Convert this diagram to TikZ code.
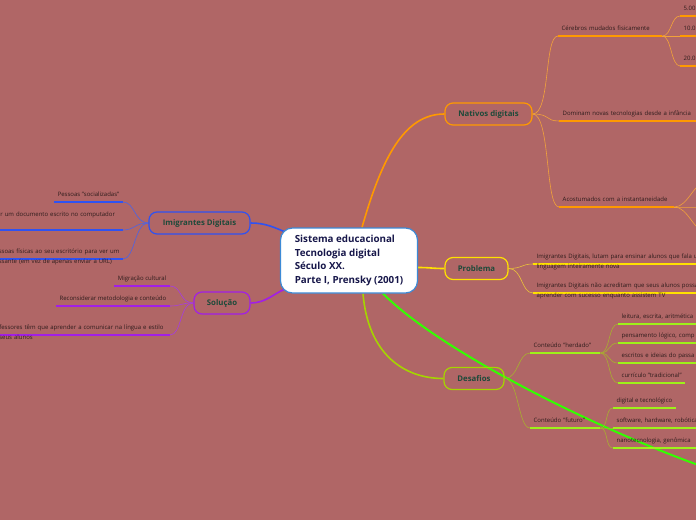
\documentclass[tikz,border=0pt]{standalone}
\usepackage{fontspec}
\setmainfont{Open Sans}
\usetikzlibrary{backgrounds}

\definecolor{bg}{HTML}{B06666}
\definecolor{rootblue}{HTML}{3C8AD6}
\definecolor{navy}{HTML}{17174A}
\definecolor{topictext}{HTML}{1E4A3A}
\definecolor{leaftext}{HTML}{2E1C1C}
\definecolor{natorange}{HTML}{FF9900}
\definecolor{natthin}{HTML}{F2A23A}
\definecolor{proyellow}{HTML}{FFE100}
\definecolor{prothin}{HTML}{EAC23A}
\definecolor{deslime}{HTML}{A5D400}
\definecolor{desline}{HTML}{9EF01A}
\definecolor{desthin}{HTML}{A8AE30}
\definecolor{brightgreen}{HTML}{33FF00}
\definecolor{imiblue}{HTML}{2F52F2}
\definecolor{imithin}{HTML}{4A63E6}
\definecolor{solpurple}{HTML}{A21FE6}
\definecolor{solthin}{HTML}{A63DE0}

\begin{document}
\begin{tikzpicture}[x=1pt, y=-1pt,
  root/.style={draw=rootblue, fill=white, line width=1.2pt, rounded corners=12pt,
    minimum width=137pt, minimum height=65pt, align=left, text=navy,
    font=\bfseries\fontsize{9.8}{13.7}\selectfont},
  topic/.style={draw=#1, line width=1.2pt, rounded corners=8pt, minimum height=22pt,
    text=topictext, font=\bfseries\fontsize{7.8}{9}\selectfont},
  leaf/.style={inner xsep=3.5pt, inner ysep=3.5pt, text depth=1.6pt, align=left,
    text=leaftext, font=\fontsize{6}{10}\selectfont},
  branch/.style={draw=#1, line width=1.6pt},
  twig/.style={draw=#1, line width=0.6pt},
  uline/.style={draw=#1, line width=1.6pt}]
  \useasboundingbox (0,0) rectangle (696,520);
  \clip (0,0) rectangle (696,520);

  % Centre
  \node[root] (root) at (349,260.5)
    {Sistema educacional\\Tecnologia digital\\Século XX.\\Parte I, Prensky (2001)};

  % Main topics
  \node[topic=natorange, minimum width=87pt] (nat) at (488.5,114) {Nativos digitais};
  \node[topic=proyellow, minimum width=63pt] (pro) at (476.5,268.5) {Problema};
  \node[topic=deslime, minimum width=60pt] (des) at (474,378.5) {Desafios};
  \node[topic=imiblue, minimum width=101pt] (imi) at (199.5,223) {Imigrantes Digitais};
  \node[topic=solpurple, minimum width=56pt] (sol) at (222,303) {Solução};
  \coordinate (far) at (704,467);

  % Nativos digitais
  \node[leaf, text width=97pt, anchor=south west] (cer) at (558,36) {Cérebros mudados fisicamente};
  \node[leaf, text width=150pt, anchor=south west] (dom) at (559,121) {Dominam novas tecnologias desde a infância};
  \node[leaf, text width=108pt, anchor=south west] (aco) at (559,207) {Acostumados com a instantaneidade};
  \node[leaf, text width=40pt, anchor=south west] (c5) at (680,16) {5.00};
  \node[leaf, text width=40pt, anchor=south west] (c10) at (680,36) {10.0};
  \node[leaf, text width=40pt, anchor=south west] (c20) at (680,66) {20.0};
  \coordinate (a1) at (708,181);
  \coordinate (a2) at (708,207);
  \coordinate (a3) at (708,233);

  % Problema
  \node[leaf, text width=200pt, anchor=south west] (p1) at (533,264)
    {Imigrantes Digitais, lutam para ensinar alunos que fala u\\linguagem inteiramente nova};
  \node[leaf, text width=200pt, anchor=south west] (p2) at (533,293)
    {Imigrantes Digitais não acreditam que seus alunos possa\\aprender com sucesso enquanto assistem TV};

  % Desafios
  \node[leaf, text width=63pt, anchor=south west] (herd) at (530,353) {Conteúdo "herdado"};
  \node[leaf, text width=63pt, anchor=south west] (fut) at (530,428) {Conteúdo "futuro"};
  \node[leaf, text width=100pt, anchor=south west] (h1) at (618,324) {leitura, escrita, aritmética};
  \node[leaf, text width=100pt, anchor=south west] (h2) at (618,343) {pensamento lógico, comp};
  \node[leaf, text width=100pt, anchor=south west] (h3) at (618,363) {escritos e ideias do passa};
  \node[leaf, anchor=south west] (h4) at (618,383) {currículo "tradicional"};
  \node[leaf, anchor=south west] (f1) at (613,408) {digital e tecnológico};
  \node[leaf, text width=100pt, anchor=south west] (f2) at (613,428) {software, hardware, robótica};
  \node[leaf, text width=100pt, anchor=south west] (f3) at (613,448) {nanotecnologia, genômica};

  % Imigrantes Digitais
  \node[leaf, anchor=south east] (i1) at (123,202) {Pessoas "socializadas"};
  \node[leaf, inner xsep=3pt, text width=121pt, text depth=10pt, anchor=south east] (i2) at (123,230)
    {ir um documento escrito no computador};
  \node[leaf, inner xsep=3pt, text width=121pt, anchor=south east] (i3) at (123,259)
    {ssoas físicas ao seu escritório para ver um\\ssante (em vez de apenas enviar a URL)};

  % Solução
  \node[leaf, anchor=south east] (s1) at (170,286) {Migração cultural};
  \node[leaf, anchor=south east] (s2) at (170,306) {Reconsiderar metodologia e conteúdo};
  \node[leaf, text width=167pt, anchor=south east] (s3) at (170,335)
    {fessores têm que aprender a comunicar na língua e estilo\\seus alunos};

  \begin{scope}[on background layer]
    \clip (0,0) rectangle (696,520);
    \fill[bg] (0,0) rectangle (696,520);

    % Branches from the centre
    \draw[branch=natorange] ([xshift=13pt]root.north) .. controls +(20,-70) and +(-40,0) .. (nat.west);
    \draw[branch=proyellow] ([yshift=-7pt]root.east) .. controls +(12,0) and +(-12,0) .. (pro.west);
    \draw[branch=deslime] ([xshift=14pt]root.south) .. controls +(5,60) and +(-40,0) .. (des.west);
    \draw[branch=brightgreen, line width=2pt] ([xshift=34pt]root.south) .. controls +(60,60) and +(-100,-35) .. (far);
    \draw[branch=imiblue] ([xshift=4pt, yshift=-4pt]root.north west) .. controls +(-10,-4) and +(15,0) .. (imi.east);
    \draw[branch=solpurple] ([xshift=4pt, yshift=4pt]root.south west) .. controls +(-10,4) and +(15,0) .. (sol.east);

    % Twigs
    \foreach \n in {cer,dom,aco}
      \draw[twig=natthin] (nat.east) .. controls +(18,0) and +(-14,0) .. (\n.south west);
    \foreach \n in {c5,c10,c20}
      \draw[twig=natthin] (cer.south east) .. controls +(9,0) and +(-9,0) .. (\n.south west);
    \foreach \n in {a1,a2,a3}
      \draw[twig=natthin] (aco.south east) .. controls +(14,0) and +(-14,0) .. (\n);
    \foreach \n in {p1,p2}
      \draw[twig=prothin] (pro.east) .. controls +(14,0) and +(-12,0) .. (\n.south west);
    \foreach \n in {herd,fut}
      \draw[twig=desthin] (des.east) .. controls +(14,0) and +(-12,0) .. (\n.south west);
    \foreach \n in {h1,h2,h3,h4}
      \draw[twig=desthin] (herd.south east) .. controls +(10,0) and +(-10,0) .. (\n.south west);
    \foreach \n in {f1,f2,f3}
      \draw[twig=desthin] (fut.south east) .. controls +(8,0) and +(-8,0) .. (\n.south west);
    \foreach \n in {i1,i2,i3}
      \draw[twig=imithin] (imi.west) .. controls +(-14,0) and +(12,0) .. (\n.south east);
    \foreach \n in {s1,s2,s3}
      \draw[twig=solthin] (sol.west) .. controls +(-14,0) and +(12,0) .. (\n.south east);

    % Underlines
    \foreach \n in {cer,dom,aco,c5,c10,c20}
      \draw[uline=natorange] (\n.south west) -- (\n.south east);
    \foreach \n in {p1,p2}
      \draw[uline=proyellow] (\n.south west) -- (\n.south east);
    \foreach \n in {herd,fut,h1,h2,h3,h4,f1,f2,f3}
      \draw[uline=desline] (\n.south west) -- (\n.south east);
    \foreach \n in {i1,i2,i3}
      \draw[uline=imiblue] (\n.south west) -- (\n.south east);
    \foreach \n in {s1,s2,s3}
      \draw[uline=solpurple] (\n.south west) -- (\n.south east);
  \end{scope}
\end{tikzpicture}
\end{document}
